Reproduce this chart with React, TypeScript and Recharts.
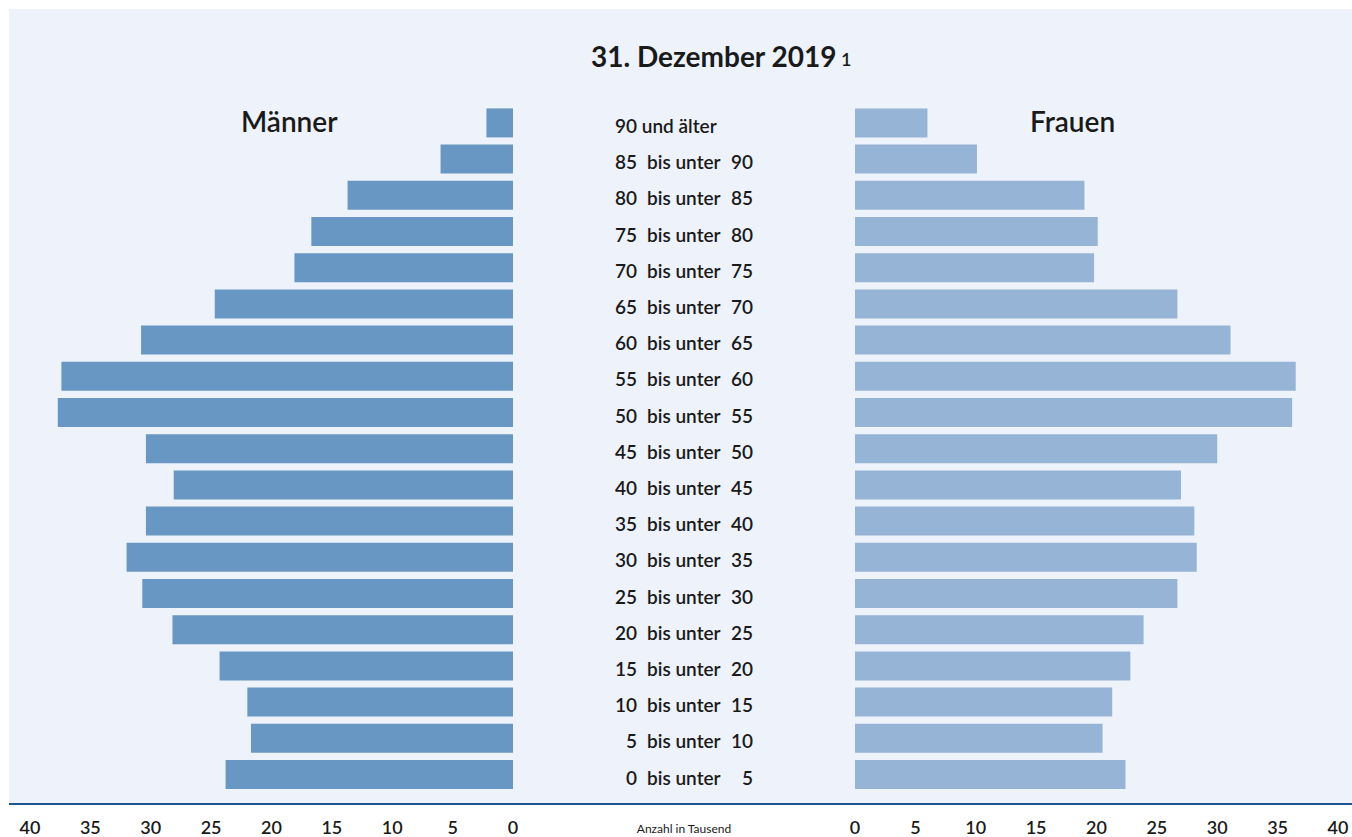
import React from 'react';
import { BarChart, Bar, XAxis, YAxis } from 'recharts';

// Altersgruppen, von oben (älteste) nach unten
const GRUPPEN = [
  '90 und älter', '85 bis unter 90', '80 bis unter 85', '75 bis unter 80', '70 bis unter 75',
  '65 bis unter 70', '60 bis unter 65', '55 bis unter 60', '50 bis unter 55', '45 bis unter 50',
  '40 bis unter 45', '35 bis unter 40', '30 bis unter 35', '25 bis unter 30', '20 bis unter 25',
  '15 bis unter 20', '10 bis unter 15', '5 bis unter 10', '0 bis unter 5',
];

// Anzahl in Tausend
const MAENNER = [2.2, 6.0, 13.7, 16.7, 18.1, 24.7, 30.8, 37.4, 37.7, 30.4, 28.1, 30.4, 32.0, 30.7, 28.2, 24.3, 22.0, 21.7, 23.8];
const FRAUEN = [6.0, 10.1, 19.0, 20.1, 19.8, 26.7, 31.1, 36.5, 36.2, 30.0, 27.0, 28.1, 28.3, 26.7, 23.9, 22.8, 21.3, 20.5, 22.4];

const TICKS = [0, 5, 10, 15, 20, 25, 30, 35, 40];

const data = GRUPPEN.map((g, i) => ({ gruppe: g, maenner: MAENNER[i], frauen: FRAUEN[i] }));

const FONT = "Lato, 'Open Sans', sans-serif";
const TEXT = '#1a1a1a';
const RIGHT_LEFT = 555; // left edge of the right chart on the page

const tickStyle = { fontFamily: FONT, fontSize: 18, fontWeight: 600, fill: TEXT };

// middle column labels: "85  bis unter 90" set in columns
function GruppeTick(props: any) {
  const { y, payload } = props;
  const v: string = payload.value;
  const ty = y + 10.5;
  const common = { fontFamily: FONT, fontSize: 19, fontWeight: 600, fill: TEXT };
  const m = v.match(/^(\d+) bis unter (\d+)$/);
  if (!m) {
    return (
      <text x={615 - RIGHT_LEFT} y={ty} {...common} textAnchor="start">{v}</text>
    );
  }
  return (
    <g>
      <text x={637 - RIGHT_LEFT} y={ty} {...common} textAnchor="end">{m[1]}</text>
      <text x={647 - RIGHT_LEFT} y={ty} {...common} textAnchor="start">bis unter</text>
      <text x={753 - RIGHT_LEFT} y={ty} {...common} textAnchor="end">{m[2]}</text>
    </g>
  );
}

export default function App() {
  return (
    <div style={{ position: 'absolute', left: 0, top: 0, width: 1352, height: 837, background: '#ffffff', overflow: 'hidden' }}>
      <div style={{ position: 'absolute', left: 9, top: 9, width: 1343, height: 795, background: '#eef2fa' }} />
      <div style={{ position: 'absolute', left: 9, top: 803, width: 1343, height: 2, background: '#1c5591' }} />

      {/* Männer */}
      <div style={{ position: 'absolute', left: 0, top: 0 }}>
        <BarChart
          width={560}
          height={837}
          data={data}
          layout="vertical"
          margin={{ top: 104.4, right: 47, left: 30, bottom: 14.8 }}
        >
          <XAxis
            type="number"
            domain={[0, 40]}
            ticks={TICKS}
            interval={0}
            reversed
            axisLine={false}
            tickLine={false}
            tickMargin={23}
            height={30}
            tick={tickStyle}
          />
          <YAxis type="category" dataKey="gruppe" hide />
          <Bar dataKey="maenner" fill="#6797c2" barSize={29} isAnimationActive={false} />
        </BarChart>
      </div>

      {/* Frauen */}
      <div style={{ position: 'absolute', left: RIGHT_LEFT, top: 0 }}>
        <BarChart
          width={797}
          height={837}
          data={data}
          layout="vertical"
          margin={{ top: 104.4, right: 14, left: 0, bottom: 14.8 }}
        >
          <XAxis
            type="number"
            domain={[0, 40]}
            ticks={TICKS}
            interval={0}
            axisLine={false}
            tickLine={false}
            tickMargin={23}
            height={30}
            tick={tickStyle}
          />
          <YAxis
            type="category"
            dataKey="gruppe"
            width={300}
            axisLine={false}
            tickLine={false}
            interval={0}
            tick={<GruppeTick />}
          />
          <Bar dataKey="frauen" fill="#96b4d5" barSize={29} isAnimationActive={false} />
        </BarChart>
      </div>

      <svg width={1352} height={837} style={{ position: 'absolute', left: 0, top: 0, pointerEvents: 'none' }}>
        <text x={591} y={67} fontFamily={FONT} fontSize={28} fontWeight={700} fill={TEXT}>
          31. Dezember 2019
        </text>
        <text x={841} y={66} fontFamily={FONT} fontSize={18} fontWeight={600} fill={TEXT}>1</text>
        <text x={241} y={132} fontFamily={FONT} fontSize={28} fontWeight={600} fill={TEXT}>Männer</text>
        <text x={1030} y={132} fontFamily={FONT} fontSize={28} fontWeight={600} fill={TEXT}>Frauen</text>
        <text x={684} y={833} textAnchor="middle" fontFamily={FONT} fontSize={12} fontWeight={400} fill={TEXT}>
          Anzahl in Tausend
        </text>
      </svg>
    </div>
  );
}
